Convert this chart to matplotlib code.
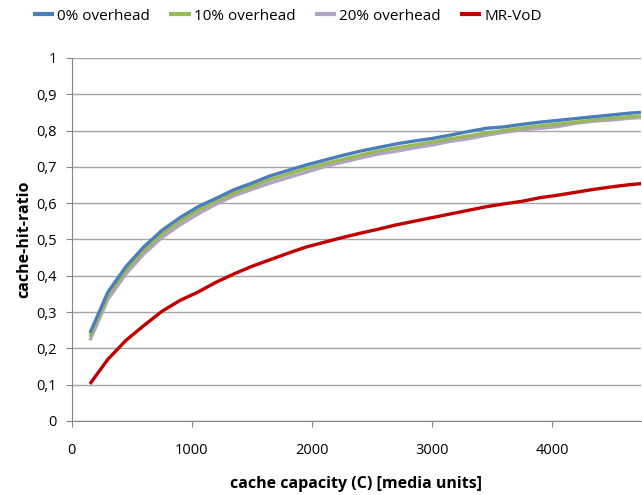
import matplotlib
matplotlib.use("Agg")
import matplotlib.pyplot as plt

capacity = [150, 300, 450, 600, 750, 900, 1050, 1200, 1350, 1500, 1650, 1800, 1950, 2100, 2250,
            2400, 2550, 2700, 2850, 3000, 3150, 3300, 3450, 3600, 3750, 3900, 4050, 4200, 4350, 4500, 4650, 4750]
overhead0 = [0.242, 0.355, 0.425, 0.48, 0.525, 0.56, 0.59, 0.613, 0.637, 0.655, 0.675, 0.69, 0.705, 0.718, 0.731,
             0.743, 0.753, 0.763, 0.771, 0.778, 0.787, 0.797, 0.806, 0.81, 0.817, 0.823, 0.828, 0.833, 0.838, 0.843, 0.848, 0.85]
overhead10 = [0.232, 0.345, 0.415, 0.47, 0.515, 0.55, 0.58, 0.605, 0.628, 0.646, 0.665, 0.68, 0.695, 0.708, 0.72,
              0.732, 0.743, 0.752, 0.76, 0.768, 0.777, 0.785, 0.793, 0.8, 0.807, 0.813, 0.818, 0.823, 0.829, 0.834, 0.838, 0.84]
overhead20 = [0.222, 0.335, 0.405, 0.46, 0.505, 0.54, 0.57, 0.597, 0.62, 0.638, 0.655, 0.67, 0.685, 0.7, 0.712,
              0.724, 0.735, 0.743, 0.752, 0.76, 0.77, 0.777, 0.787, 0.795, 0.802, 0.806, 0.811, 0.82, 0.826, 0.829, 0.834, 0.836]
mrvod = [0.102, 0.17, 0.222, 0.263, 0.302, 0.332, 0.355, 0.382, 0.405, 0.426, 0.444, 0.462, 0.479, 0.492, 0.505,
         0.517, 0.528, 0.54, 0.55, 0.56, 0.57, 0.58, 0.59, 0.598, 0.605, 0.615, 0.622, 0.63, 0.638, 0.645, 0.651, 0.654]

series_names = ["0% overhead", "10% overhead", "20% overhead", "MR-VoD"]
colors = ["#4a7ebb", "#98b954", "#b3a2c7", "#c00000"]
ytick_labels = ["0", "0,1", "0,2", "0,3", "0,4", "0,5", "0,6", "0,7", "0,8", "0,9", "1"]

plt.rcParams['font.family'] = ['Open Sans', 'DejaVu Sans']
fig = plt.figure(figsize=(6.42, 4.95), dpi=100)
ax = fig.add_axes([0.112, 0.1495, 0.886, 0.7335])

data = [overhead0, overhead10, overhead20, mrvod]
lines = []
for name, vals, c in zip(series_names, data, colors):
    ln, = ax.plot(capacity, vals, color=c, lw=2.4, label=name, solid_capstyle='butt')
    lines.append(ln)
lines[0].set_zorder(5); lines[1].set_zorder(4); lines[2].set_zorder(3); lines[3].set_zorder(5)

ax.set_xlim(0, 4740)
ax.set_ylim(0, 1)
ax.set_xticks([0, 1000, 2000, 3000, 4000])
ax.set_yticks([i / 10 for i in range(11)])
ax.set_yticklabels(ytick_labels)
ax.grid(axis='y', color='#a6a6a6', lw=1.0)
ax.set_axisbelow(True)
for s in ['top', 'right']:
    ax.spines[s].set_visible(False)
for s in ['left', 'bottom']:
    ax.spines[s].set_color('#868686')
ax.tick_params(axis='both', colors='#868686', labelcolor='black', labelsize=10.5, direction='out', length=4)
ax.tick_params(axis='x', pad=12)
ax.tick_params(axis='y', pad=7)
ax.set_xlabel("cache capacity (C) [media units]", fontsize=11.5, fontweight='bold', labelpad=13)
ax.set_ylabel("cache-hit-ratio", fontsize=11.5, fontweight='bold', labelpad=3)

leg = fig.legend(handles=lines, labels=series_names, loc='center left', bbox_to_anchor=(33 / 642, 1 - 16 / 495),
                 ncol=4, frameon=False, fontsize=11, handlelength=1.4, handletextpad=0.2, columnspacing=1.25,
                 borderpad=0, borderaxespad=0)
for h in leg.get_lines():
    h.set_linewidth(3)

fig.savefig("out.png", dpi=100)
